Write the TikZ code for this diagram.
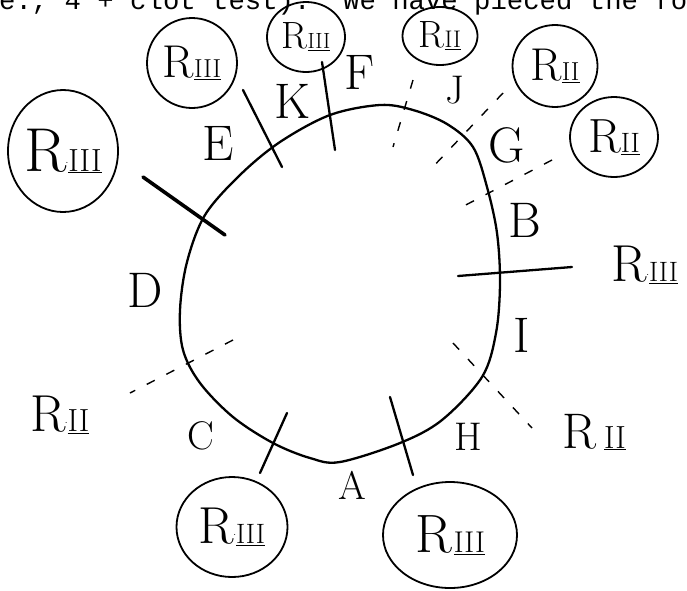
\documentclass[tikz,border=0pt]{standalone}
\usepackage{fontspec}
\usetikzlibrary{shapes.geometric}
\newfontfamily\typew{Liberation Mono}
\newcommand\fs[2]{{\fontsize{#1}{#1}\selectfont #2}}
\newcommand\rlab[4]{\fs{#1}{R}#4\fs{#3}{\underline{#2}}}
\begin{document}
\begin{tikzpicture}[x=1pt,y=-1pt,
  pen/.style={line width=2.3pt,line cap=round,line join=round},
  thickpen/.style={line width=3.6pt,line cap=round},
  dotpen/.style={line width=1.4pt,dash pattern=on 9pt off 13pt},
  ring/.style={draw,ellipse,line width=1.8pt,inner sep=0pt},
  letter/.style={inner sep=0pt,font=\fontsize{50}{50}\selectfont},
  smallletter/.style={inner sep=0pt,font=\fontsize{40}{40}\selectfont},
  free/.style={inner sep=0pt}]
\useasboundingbox (0,0) rectangle (687,590);
\clip (0,0) rectangle (687,590);
% typed line cut at the top
\node[anchor=base west,inner sep=0pt,font=\typew\fontsize{27.3}{27.3}\selectfont] (typed) at (-1,9)
  {e.,~4~+~clot~test).~~We~have~pieced~the~fo};
% big closed curve
\draw[pen] plot[smooth cycle,tension=0.55] coordinates {
 (380,105) (413,110) (447,124) (473,147) (487,187) (497,233) (500,283)
 (496,333) (482,377) (442,420) (400,443) (340,462) (310,458) (273,443)
 (233,417) (200,383) (183,350) (180,310) (187,262) (205,215) (240,175)
 (280,142) (330,115)};
% ringed labels
\node[ring,minimum width=110pt,minimum height=122pt] (r1) at (63,151) {\rlab{62}{III}{32}{\kern-1pt\raisebox{8pt}{.}}};
\node[ring,minimum width=90pt,minimum height=90pt] (r2) at (192,63) {\rlab{46}{III}{26}{}};
\node[ring,minimum width=78pt,minimum height=70pt] (r3) at (306,37) {\rlab{38}{III}{22}{}};
\node[ring,minimum width=75pt,minimum height=58pt] (r4) at (440,36) {\rlab{38}{II}{24}{}};
\node[ring,minimum width=85pt,minimum height=82pt] (r5) at (555,66) {\rlab{46}{II}{26}{}};
\node[ring,minimum width=88pt,minimum height=80pt] (r6) at (614,137) {\rlab{48}{II}{28}{}};
\node[ring,minimum width=111pt,minimum height=100pt] (r7) at (232,527) {\rlab{52}{III}{28}{\kern-1pt\raisebox{8pt}{.}}};
\node[ring,minimum width=134pt,minimum height=106pt] (r8) at (450,535) {\rlab{54}{III}{30}{\kern2pt}};
% free labels
\node[free] (r9) at (645,265) {\rlab{52}{III}{28}{\kern-1pt\raisebox{6pt}{.}}};
\node[free] (r10) at (60,415) {\rlab{52}{II}{32}{\kern-1pt\raisebox{8pt}{.}}};
\node[free] (r11) at (594,432) {\rlab{50}{II}{32}{\kern8pt}};
% letters
\node[letter] (D) at (145,290) {D};
\node[letter] (E) at (218,143) {E};
\node[letter] (K) at (292,101) {K};
\node[letter] (F) at (360,72) {F};
\node[smallletter] (J) at (455,90) {J};
\node[letter] (G) at (507,145) {G};
\node[letter] (B) at (525,220) {B};
\node[letter] (I) at (522,335) {I};
\node[smallletter] (H) at (468,437) {H};
\node[smallletter] (A) at (352,485) {A};
\node[smallletter] (C) at (201,436) {C};
% spoke end points
\coordinate (k1) at (243,90);   \coordinate (k2) at (282,167);
\coordinate (f1) at (322,62);   \coordinate (f2) at (335,150);
\coordinate (e1) at (143,177);  \coordinate (e2) at (225,235);
\coordinate (j1) at (413,80);   \coordinate (j2) at (393,147);
\coordinate (g1) at (503,93);   \coordinate (g2) at (428,172);
\coordinate (g3) at (552,160);  \coordinate (g4) at (460,208);
\coordinate (b1) at (458,276);  \coordinate (b2) at (572,267);
\coordinate (i1) at (453,343);  \coordinate (i2) at (532,428);
\coordinate (h1) at (390,397);  \coordinate (h2) at (413,475);
\coordinate (c1) at (287,413);  \coordinate (c2) at (260,473);
\coordinate (d1) at (233,340);  \coordinate (d2) at (130,393);
% spokes
\draw[pen] (k1) -- (k2);
\draw[pen] (f1) -- (f2);
\draw[thickpen] (e1) -- (e2);
\draw[dotpen] (j1) -- (j2);
\draw[dotpen] (g1) -- (g2);
\draw[dotpen] (g3) -- (g4);
\draw[pen] (b1) -- (b2);
\draw[dotpen] (i1) -- (i2);
\draw[pen] (h1) -- (h2);
\draw[pen] (c1) -- (c2);
\draw[dotpen] (d1) -- (d2);
\end{tikzpicture}
\end{document}
